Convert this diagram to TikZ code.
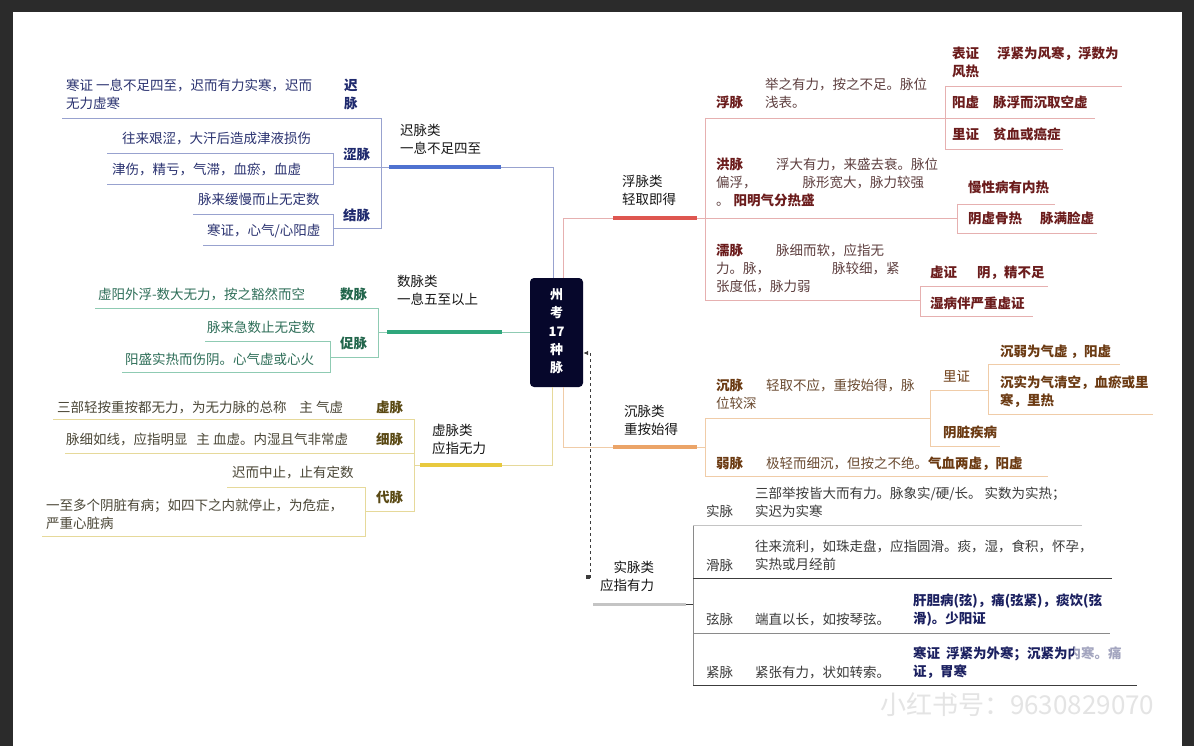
\documentclass[tikz,border=0pt]{standalone}
\usepackage{fontspec}
\setmainfont{Noto Sans CJK SC}
\usetikzlibrary{arrows.meta}

\definecolor{frame}{HTML}{2B2B2B}
\definecolor{boxfill}{HTML}{06072B}
\definecolor{headtxt}{HTML}{161616}
\definecolor{bluethin}{HTML}{98A2CF}
\definecolor{bluethick}{HTML}{4F72D0}
\definecolor{bluetxt}{HTML}{2A3270}
\definecolor{bluelab}{HTML}{1F2A6E}
\definecolor{greenthin}{HTML}{8FCBB3}
\definecolor{greenthick}{HTML}{2FA77C}
\definecolor{greentxt}{HTML}{2E6E58}
\definecolor{greenlab}{HTML}{21654B}
\definecolor{yelthin}{HTML}{E6D99A}
\definecolor{yelthick}{HTML}{E8C93E}
\definecolor{yeltxt}{HTML}{4A4636}
\definecolor{yellab}{HTML}{5A4914}
\definecolor{redthin}{HTML}{E6B0B0}
\definecolor{redthick}{HTML}{DE5650}
\definecolor{redtxt}{HTML}{5E3F3F}
\definecolor{redlab}{HTML}{6B1C1C}
\definecolor{orthin}{HTML}{F0CCA8}
\definecolor{orthick}{HTML}{EBA468}
\definecolor{ortxt}{HTML}{6A4A30}
\definecolor{orlab}{HTML}{6B3A12}
\definecolor{graylight}{HTML}{C4C4C4}
\definecolor{graymid}{HTML}{8A8A8A}
\definecolor{graydark}{HTML}{3C3C3C}
\definecolor{graytxt}{HTML}{3A3A3A}
\definecolor{navytxt}{HTML}{1B2060}
\definecolor{wmark}{HTML}{E4E4E4}

% multi-line cells, baseline on the first line
\newcommand{\ml}[1]{\begin{tabular}[t]{@{}l@{}}#1\end{tabular}}
\newcommand{\mr}[1]{\begin{tabular}[t]{@{}r@{}}#1\end{tabular}}
\newcommand{\mc}[1]{\begin{tabular}[t]{@{}c@{}}#1\end{tabular}}

\tikzset{
  txt/.style={anchor=base west, inner sep=0pt, outer sep=0pt},
  txtr/.style={anchor=base east, inner sep=0pt, outer sep=0pt},
  thinln/.style={line width=0.9pt},
  thickln/.style={line width=3.2pt},
  rootbox/.style={fill=boxfill, rounded corners=4pt, minimum width=53pt,
    minimum height=109pt, inner sep=0pt, text=white,
    font=\fontsize{13}{18.3}\selectfont\bfseries},
}

\begin{document}
\begin{tikzpicture}[x=1pt,y=-1pt,font=\fontsize{13.5}{18}\selectfont]
% page and frame
\fill[frame] (0,0) rectangle (1194,746);
\fill[white] (13,12) rectangle (1182,746);
\useasboundingbox (0,0) rectangle (1194,746);

% root
\node[rootbox] (cen) at (556.5,332.5) {\begin{tabular}{@{}c@{}}州\\考\\17\\种\\脉\end{tabular}};

% ---------------- 迟脉类 ----------------
\begin{scope}[bluethin, thinln]
  \draw (62,118) -- (381,118) -- (381,228) -- (333,228);
  \draw (107,153) -- (333,153) -- (333,184) -- (107,184);
  \draw (333,167) -- (389,167);
  \draw (193,214) -- (333,214) -- (333,245) -- (203,245);
  \draw (501,167) -- (553,167) -- (553,0 |- cen.north);
\end{scope}
\draw[bluethick, thickln] (389,167) -- (501,167);
\node[txt, text=headtxt] (chilei) at (400,136) {\ml{迟脉类\\一息不足四至}};
\node[txt, text=bluetxt] (chiz) at (66,91) {\ml{寒证 一息不足四至，迟而有力实寒，迟而\\无力虚寒}};
\node[txt, text=bluelab, font=\fontsize{13.5}{18}\selectfont\bfseries] (chi) at (344,91) {\mc{迟\\脉}};
\node[txt, text=bluetxt] (sez1) at (122,144) {往来艰涩，大汗后造成津液损伤};
\node[txt, text=bluelab, font=\fontsize{13.5}{18}\selectfont\bfseries] (se) at (343,160) {涩脉};
\node[txt, text=bluetxt] (sez2) at (112,175) {津伤，精亏，气滞，血瘀，血虚};
\node[txt, text=bluetxt] (jiez1) at (198,205) {脉来缓慢而止无定数};
\node[txt, text=bluelab, font=\fontsize{13.5}{18}\selectfont\bfseries] (jie) at (343,221) {结脉};
\node[txt, text=bluetxt] (jiez2) at (207,236) {寒证，心气/心阳虚};

% ---------------- 数脉类 ----------------
\begin{scope}[greenthin, thinln]
  \draw (95,308) -- (378,308) -- (378,357) -- (330,357);
  \draw (205,341) -- (330,341) -- (330,372) -- (122,372);
  \draw (378,332) -- (387,332);
  \draw (502,332) -- (cen.west |- 0,332);
\end{scope}
\draw[greenthick, thickln] (387,332) -- (502,332);
\node[txt, text=headtxt] (shulei) at (397,286) {\ml{数脉类\\一息五至以上}};
\node[txt, text=greentxt] (shuz) at (98,299) {虚阳外浮-数大无力，按之豁然而空};
\node[txt, text=greenlab, font=\fontsize{13.5}{18}\selectfont\bfseries] (shu) at (340,299) {数脉};
\node[txt, text=greentxt] (cuz1) at (207,332) {脉来急数止无定数};
\node[txt, text=greenlab, font=\fontsize{13.5}{18}\selectfont\bfseries] (cu) at (340,348) {促脉};
\node[txt, text=greentxt] (cuz2) at (125,364) {阳盛实热而伤阴。心气虚或心火};

% ---------------- 虚脉类 ----------------
\begin{scope}[yelthin, thinln]
  \draw (53,419) -- (414,419) -- (414,511) -- (365,511);
  \draw (65,453) -- (414,453);
  \draw (227,487) -- (365,487) -- (365,536) -- (42,536);
  \draw (414,465) -- (420,465);
  \draw (502,465) -- (552,465) -- (552,0 |- cen.south);
\end{scope}
\draw[yelthick, thickln] (420,465) -- (502,465);
\node[txt, text=headtxt] (xulei) at (432,435) {\ml{虚脉类\\应指无力}};
\node[txt, text=yeltxt] (xuz) at (57,412) {三部轻按重按都无力，为无力脉的总称\hspace{13pt}主 气虚};
\node[txt, text=yellab, font=\fontsize{13.5}{18}\selectfont\bfseries] (xu) at (376,412) {虚脉};
\node[txt, text=yeltxt] (xiz) at (66,444) {脉细如线，应指明显\hspace{9pt}主 血虚。内湿且气非常虚};
\node[txt, text=yellab, font=\fontsize{13.5}{18}\selectfont\bfseries] (xi) at (376,444) {细脉};
\node[txt, text=yeltxt] (daiz1) at (232,477) {迟而中止，止有定数};
\node[txt, text=yellab, font=\fontsize{13.5}{18}\selectfont\bfseries] (dai) at (376,502) {代脉};
\node[txt, text=yeltxt] (daiz2) at (46,510) {\ml{一至多个阴脏有病；如四下之内就停止，为危症，\\严重心脏病}};

% ---------------- 浮脉类 ----------------
\begin{scope}[redthin, thinln]
  \draw (613,218) -- (563,218) -- (563,0 |- cen.north);
  \draw (697,218) -- (957,218);
  \draw (705,118) -- (705,300);
  \draw (705,118) -- (1095,118);
  \draw (945,86) -- (945,149);
  \draw (945,86) -- (1122,86);
  \draw (945,149) -- (1063,149);
  \draw (957,204) -- (957,233);
  \draw (957,204) -- (1055,204);
  \draw (957,233) -- (1097,233);
  \draw (705,300) -- (920,300);
  \draw (920,286) -- (920,316);
  \draw (920,286) -- (1048,286);
  \draw (920,316) -- (1033,316);
\end{scope}
\draw[redthick, thickln] (613,218) -- (697,218);
\node[txt, text=headtxt] (fulei) at (622,187) {\ml{浮脉类\\轻取即得}};
\node[txt, text=redlab, font=\fontsize{13.5}{18}\selectfont\bfseries] (fu) at (716,108) {浮脉};
\node[txt, text=redtxt] (fuz) at (765,90) {\ml{举之有力，按之不足。脉位\\浅表。}};
\node[txt, text=redlab, font=\fontsize{13.5}{18}\selectfont\bfseries] (biao) at (952,59) {\ml{表证\hspace{18pt}浮紧为风寒，浮数为\\风热}};
\node[txt, text=redlab, font=\fontsize{13.5}{18}\selectfont\bfseries] (yangxu) at (952,108) {阳虚\hspace{14pt}脉浮而沉取空虚};
\node[txt, text=redlab, font=\fontsize{13.5}{18}\selectfont\bfseries] (lizh) at (952,140) {里证\hspace{14pt}贫血或癌症};
\node[txt, text=redtxt] (hong) at (716,170) {\ml{\textcolor{redlab}{\textbf{洪脉}}\hspace{33pt}浮大有力，来盛去衰。脉位\\偏浮，\hspace{46pt}脉形宽大，脉力较强\\。\hspace{4pt}\textcolor{redlab}{\textbf{阳明气分热盛}}}};
\node[txt, text=redlab, font=\fontsize{13.5}{18}\selectfont\bfseries] (neire) at (968,193) {慢性病有内热};
\node[txt, text=redlab, font=\fontsize{13.5}{18}\selectfont\bfseries] (gure) at (968,224) {阴虚骨热\hspace{18pt}脉满脸虚};
\node[txt, text=redtxt] (ru) at (716,255) {\ml{\textcolor{redlab}{\textbf{濡脉}}\hspace{33pt}脉细而软，应指无\\力。脉，\hspace{62pt}脉较细，紧\\张度低，脉力弱}};
\node[txt, text=redlab, font=\fontsize{13.5}{18}\selectfont\bfseries] (xuzh) at (930,277) {虚证\hspace{20pt}阴，精不足};
\node[txt, text=redlab, font=\fontsize{13.5}{18}\selectfont\bfseries] (shib) at (930,308) {湿病伴严重虚证};

% ---------------- 沉脉类 ----------------
\begin{scope}[orthin, thinln]
  \draw (563,0 |- cen.south) -- (563,447) -- (613,447);
  \draw (697,447) -- (705,447);
  \draw (705,418) -- (705,476);
  \draw (705,418) -- (930,418);
  \draw (930,390) -- (930,446);
  \draw (930,390) -- (988,390);
  \draw (988,364) -- (988,414);
  \draw (988,364) -- (1120,364);
  \draw (988,414) -- (1153,414);
  \draw (930,446) -- (1000,446);
  \draw (705,476) -- (1048,476);
\end{scope}
\draw[orthick, thickln] (613,447) -- (697,447);
\node[txt, text=headtxt] (chenlei) at (624,416) {\ml{沉脉类\\重按始得}};
\node[txt, text=ortxt] (chen) at (716,390) {\ml{\textcolor{orlab}{\textbf{沉脉}}\hspace{23pt}轻取不应，重按始得，脉\\位较深}};
\node[txt, text=orlab] (lizheng) at (943,381) {里证};
\node[txt, text=orlab, font=\fontsize{13.5}{18}\selectfont\bfseries] (chenruo) at (1000,356) {沉弱为气虚 ，阳虚};
\node[txt, text=orlab, font=\fontsize{13.5}{18}\selectfont\bfseries] (chenshi) at (1000,387) {\ml{沉实为气清空，血瘀或里\\寒，里热}};
\node[txt, text=orlab, font=\fontsize{13.5}{18}\selectfont\bfseries] (yinzang) at (943,437) {阴脏疾病};
\node[txt, text=ortxt] (ruo) at (716,468) {\textcolor{orlab}{\textbf{弱脉}}\hspace{23pt}极轻而细沉，但按之不绝。\textcolor{orlab}{\textbf{气血两虚，阳虚}}};

% ---------------- 实脉类 ----------------
\draw[graylight, line width=3pt] (593,604) -- (686,604);
\draw[graydark, thinln] (686,604) -- (693,604);
\draw[graymid, thinln] (693,525) -- (693,685);
\draw[graylight, thinln] (693,525) -- (1082,525);
\draw[graydark, thinln] (693,578) -- (1112,578);
\draw[graymid, thinln] (693,633) -- (1110,633);
\draw[graydark, thinln] (693,685) -- (1137,685);
\node[txtr, text=headtxt] (shilei) at (654,572) {\mr{实脉类\\应指有力}};
\node[txt, text=graytxt] (shi) at (706,516) {实脉};
\node[txt, text=graytxt] (shiz) at (755,498) {\ml{三部举按皆大而有力。脉象实/硬/长。 实数为实热；\\实迟为实寒}};
\node[txt, text=graytxt] (hua) at (706,570) {滑脉};
\node[txt, text=graytxt] (huaz) at (755,551) {\ml{往来流利，如珠走盘，应指圆滑。痰，湿，食积，怀孕，\\实热或月经前}};
\node[txt, text=graytxt] (xian) at (706,624) {弦脉};
\node[txt, text=graytxt] (xianz) at (755,624) {端直以长，如按琴弦。};
\node[txt, text=navytxt, font=\fontsize{13.5}{18}\selectfont\bfseries] (xianzh) at (913,605) {\ml{肝胆病(弦)，痛(弦紧)，痰饮(弦\\滑)。少阳证}};
\node[txt, text=graytxt] (jin) at (706,677) {紧脉};
\node[txt, text=graytxt] (jinz) at (755,677) {紧张有力，状如转索。};
\node[txt, text=navytxt, font=\fontsize{13.5}{18}\selectfont\bfseries] (jinzh) at (913,658) {\ml{寒证\hspace{6pt}浮紧为外寒；沉紧为内寒。痛\\证，胃寒}};

% dashed link from 实脉类 back to the root
\coordinate (dstart) at (586,577);
\draw[graydark, line width=0.9pt, dashed, {Square[length=3.5pt,width=3.5pt]}-{Latex[length=5pt,width=4.5pt]}]
  (dstart) -- (590,577) -- (590,353) -- (cen.east |- 0,353);

% watermark
\fill[white, opacity=0.6, rounded corners=16pt] (1074,634) rectangle (1152,672);
\node[txt, text=wmark, font=\fontsize{26}{30}\selectfont] (wm) at (880,714) {小红书号：9630829070};
\end{tikzpicture}
\end{document}
